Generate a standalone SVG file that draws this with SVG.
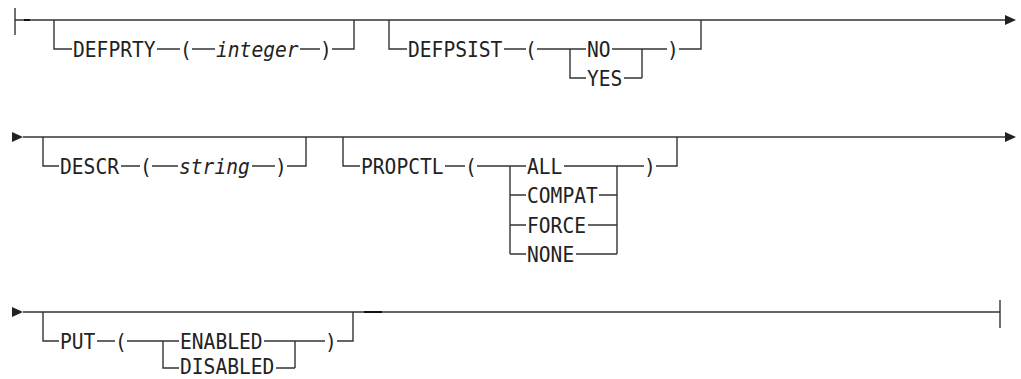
<svg xmlns="http://www.w3.org/2000/svg" width="1021" height="379" viewBox="0 0 1021 379">
<style>
.ln{stroke:#333;stroke-width:1.4;fill:none}
.tk{stroke:#111;stroke-width:2;fill:none}
.ah{fill:#222}
.t{font-family:"DejaVu Sans Mono","Liberation Mono",monospace;font-size:21.5px;fill:#222}
.i{font-style:italic}
</style>
<rect width="1021" height="379" fill="#fff"/>
<g id="connectors">
  <path class="ln" d="M15 8V35M15 20H1006"/>
  <path class="tk" d="M24 20H30"/>
  <polygon class="ah" points="1005,15 1016,20 1005,25"/>
  <polygon class="ah" points="12,132 23,137 12,142"/>
  <path class="ln" d="M23 137H1006"/>
  <polygon class="ah" points="1005,132 1016,137 1005,142"/>
  <polygon class="ah" points="12,307 23,312 12,317"/>
  <path class="ln" d="M23 312H1000M1000 300V328"/>
  <path class="tk" d="M364 312H382"/>
</g>
<g id="defprty">
  <path class="ln" d="M54 20V49H72M157 49H180M192 49H215M300 49H320M332 49H354V20"/>
  <text class="t" x="73" y="56.8" textLength="82.6" lengthAdjust="spacingAndGlyphs">DEFPRTY</text>
  <text class="t" x="180" y="56.8" textLength="11.8" lengthAdjust="spacingAndGlyphs">(</text>
  <text class="t i" x="216" y="56.8" textLength="82.6" lengthAdjust="spacingAndGlyphs">integer</text>
  <text class="t" x="320" y="56.8" textLength="11.8" lengthAdjust="spacingAndGlyphs">)</text>
</g>
<g id="defpsist">
  <path class="ln" d="M389 20V49H407M504 49H526M537 49H586M570 49V78H586M612 49H642M624 78H642M642 49V78M642 49H667M679 49H701V20"/>
  <text class="t" x="408" y="56.8" textLength="94.4" lengthAdjust="spacingAndGlyphs">DEFPSIST</text>
  <text class="t" x="525" y="56.8" textLength="11.8" lengthAdjust="spacingAndGlyphs">(</text>
  <text class="t" x="587" y="56.8" textLength="23.6" lengthAdjust="spacingAndGlyphs">NO</text>
  <text class="t" x="587" y="85.8" textLength="35.4" lengthAdjust="spacingAndGlyphs">YES</text>
  <text class="t" x="667" y="56.8" textLength="11.8" lengthAdjust="spacingAndGlyphs">)</text>
</g>
<g id="descr">
  <path class="ln" d="M43 137V166H59M121 166H140M152 166H178M252 166H275M287 166H306V137"/>
  <text class="t" x="60" y="173.8" textLength="59" lengthAdjust="spacingAndGlyphs">DESCR</text>
  <text class="t" x="140" y="173.8" textLength="11.8" lengthAdjust="spacingAndGlyphs">(</text>
  <text class="t i" x="179" y="173.8" textLength="70.8" lengthAdjust="spacingAndGlyphs">string</text>
  <text class="t" x="275" y="173.8" textLength="11.8" lengthAdjust="spacingAndGlyphs">)</text>
</g>
<g id="propctl">
  <path class="ln" d="M343 137V166H360M445 166H465M477 166H526M510 166V254M510 195H526M510 225H526M510 254H526M564 166H617M599 195H617M588 225H617M576 254H617M617 166V254M617 166H644M656 166H677V137"/>
  <text class="t" x="361" y="173.8" textLength="82.6" lengthAdjust="spacingAndGlyphs">PROPCTL</text>
  <text class="t" x="465" y="173.8" textLength="11.8" lengthAdjust="spacingAndGlyphs">(</text>
  <text class="t" x="527" y="173.8" textLength="35.4" lengthAdjust="spacingAndGlyphs">ALL</text>
  <text class="t" x="527" y="202.8" textLength="70.8" lengthAdjust="spacingAndGlyphs">COMPAT</text>
  <text class="t" x="527" y="232.8" textLength="59" lengthAdjust="spacingAndGlyphs">FORCE</text>
  <text class="t" x="527" y="261.8" textLength="47.2" lengthAdjust="spacingAndGlyphs">NONE</text>
  <text class="t" x="644" y="173.8" textLength="11.8" lengthAdjust="spacingAndGlyphs">)</text>
</g>
<g id="put">
  <path class="ln" d="M43 312V341H59M97 341H115M127 341H179M163 341V368H179M264 341H295M276 368H295M295 341V368M295 341H325M337 341H353V312"/>
  <text class="t" x="60" y="348.8" textLength="35.4" lengthAdjust="spacingAndGlyphs">PUT</text>
  <text class="t" x="115" y="348.8" textLength="11.8" lengthAdjust="spacingAndGlyphs">(</text>
  <text class="t" x="180" y="348.8" textLength="82.6" lengthAdjust="spacingAndGlyphs">ENABLED</text>
  <text class="t" x="180" y="373.8" textLength="94.4" lengthAdjust="spacingAndGlyphs">DISABLED</text>
  <text class="t" x="325" y="348.8" textLength="11.8" lengthAdjust="spacingAndGlyphs">)</text>
</g>
</svg>
